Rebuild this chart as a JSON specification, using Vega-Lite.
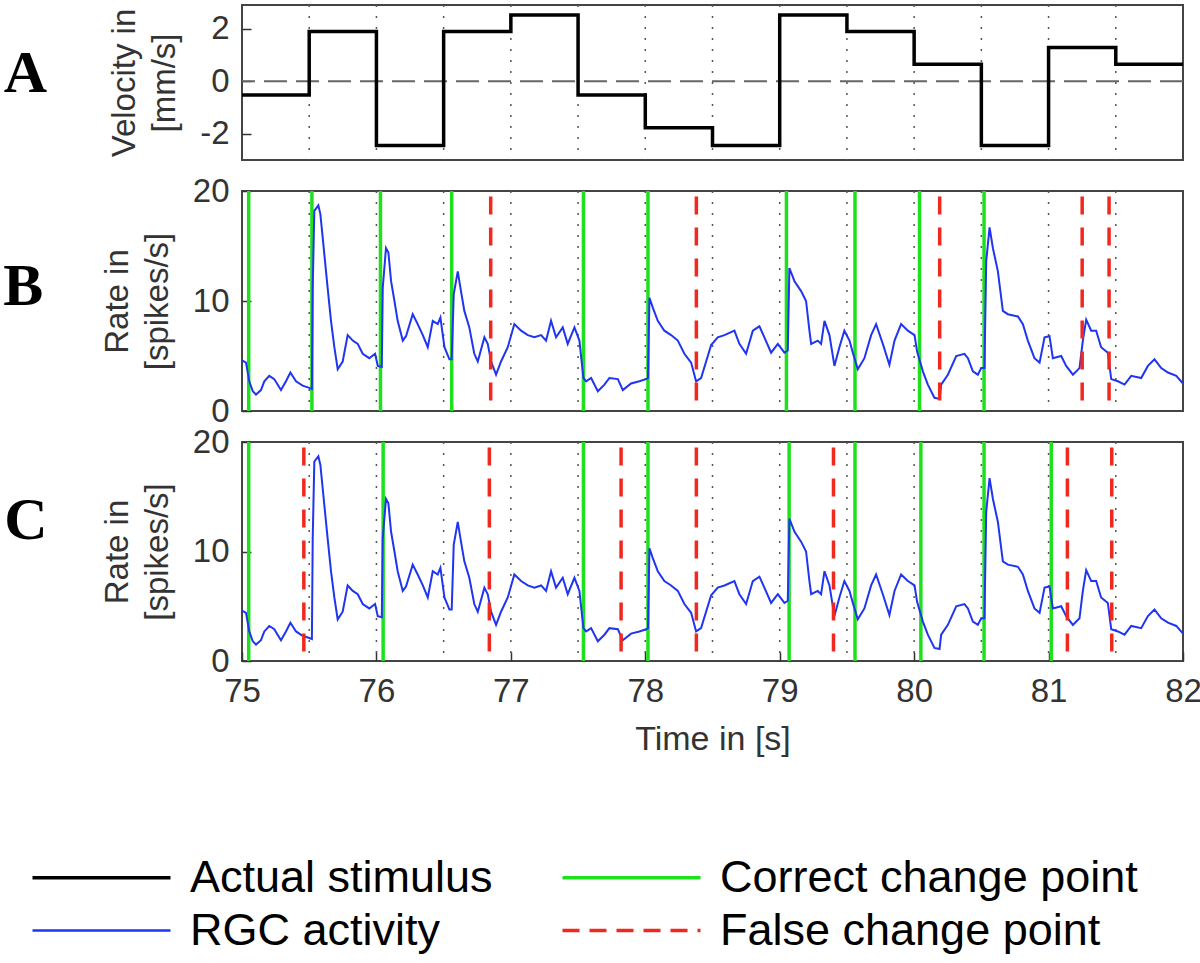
{
  "$schema": "https://vega.github.io/schema/vega-lite/v6.json",
  "padding": {"left": 2, "top": 3, "right": 0, "bottom": 0},
  "bounds": "flush",
  "config": {
    "font": "Liberation Sans",
    "view": {"stroke": "#444", "strokeWidth": 2},
    "axis": {
      "grid": false, "domain": false, "labelFlush": false,
      "labelFont": "Liberation Sans", "labelFontSize": 33, "labelColor": "#333",
      "titleFont": "Liberation Sans", "titleFontSize": 33, "titleFontWeight": "normal", "titleColor": "#333",
      "tickColor": "#333", "tickWidth": 1.5, "tickSize": -9, "labelPadding": 22,
      "titleLineHeight": 40, "titlePadding": 18
    },
    "axisY": {"labelExpr": "'' + datum.value"},
    "title": {"font": "Liberation Serif", "fontSize": 60, "fontWeight": "bold", "color": "#000"}
  },
  "datasets": {
    "stim": [
      {"t": 75.0, "v": -0.53}, {"t": 75.5, "v": 1.89}, {"t": 76.0, "v": -2.45}, {"t": 76.5, "v": 1.89},
      {"t": 77.0, "v": 2.52}, {"t": 77.5, "v": -0.53}, {"t": 78.0, "v": -1.77}, {"t": 78.5, "v": -2.45},
      {"t": 79.0, "v": 2.52}, {"t": 79.5, "v": 1.89}, {"t": 80.0, "v": 0.64}, {"t": 80.5, "v": -2.45},
      {"t": 81.0, "v": 1.28}, {"t": 81.5, "v": 0.64}, {"t": 82.0, "v": 0.64}
    ],
    "changes": [
      {"t": 75.5}, {"t": 76.0}, {"t": 76.5}, {"t": 77.0}, {"t": 77.5}, {"t": 78.0}, {"t": 78.5},
      {"t": 79.0}, {"t": 79.5}, {"t": 80.0}, {"t": 80.5}, {"t": 81.0}, {"t": 81.5}
    ],
    "cp": [
      {"panel": "B", "kind": "Correct change point", "t": 75.05},
      {"panel": "B", "kind": "Correct change point", "t": 75.52},
      {"panel": "B", "kind": "Correct change point", "t": 76.03},
      {"panel": "B", "kind": "Correct change point", "t": 76.56},
      {"panel": "B", "kind": "Correct change point", "t": 77.54},
      {"panel": "B", "kind": "Correct change point", "t": 78.02},
      {"panel": "B", "kind": "Correct change point", "t": 79.05},
      {"panel": "B", "kind": "Correct change point", "t": 79.56},
      {"panel": "B", "kind": "Correct change point", "t": 80.04},
      {"panel": "B", "kind": "Correct change point", "t": 80.52},
      {"panel": "B", "kind": "False change point", "t": 76.85},
      {"panel": "B", "kind": "False change point", "t": 78.38},
      {"panel": "B", "kind": "False change point", "t": 80.19},
      {"panel": "B", "kind": "False change point", "t": 81.25},
      {"panel": "B", "kind": "False change point", "t": 81.45},
      {"panel": "C", "kind": "Correct change point", "t": 75.05},
      {"panel": "C", "kind": "Correct change point", "t": 76.05},
      {"panel": "C", "kind": "Correct change point", "t": 77.54},
      {"panel": "C", "kind": "Correct change point", "t": 78.02},
      {"panel": "C", "kind": "Correct change point", "t": 79.07},
      {"panel": "C", "kind": "Correct change point", "t": 79.56},
      {"panel": "C", "kind": "Correct change point", "t": 80.05},
      {"panel": "C", "kind": "Correct change point", "t": 80.52},
      {"panel": "C", "kind": "Correct change point", "t": 81.02},
      {"panel": "C", "kind": "False change point", "t": 75.46},
      {"panel": "C", "kind": "False change point", "t": 76.84},
      {"panel": "C", "kind": "False change point", "t": 77.82},
      {"panel": "C", "kind": "False change point", "t": 78.38},
      {"panel": "C", "kind": "False change point", "t": 79.40},
      {"panel": "C", "kind": "False change point", "t": 81.14},
      {"panel": "C", "kind": "False change point", "t": 81.47}
    ],
    "rate": [
      {"t": 75.0, "r": 4.6}, {"t": 75.03, "r": 4.4}, {"t": 75.054, "r": 2.7}, {"t": 75.08, "r": 1.8},
      {"t": 75.104, "r": 1.5}, {"t": 75.141, "r": 1.9}, {"t": 75.166, "r": 2.7}, {"t": 75.203, "r": 3.2},
      {"t": 75.24, "r": 2.9}, {"t": 75.29, "r": 1.9}, {"t": 75.327, "r": 2.7}, {"t": 75.36, "r": 3.5},
      {"t": 75.402, "r": 2.7}, {"t": 75.451, "r": 2.3}, {"t": 75.501, "r": 2.1}, {"t": 75.52, "r": 2.0},
      {"t": 75.526, "r": 11.2}, {"t": 75.538, "r": 18.2}, {"t": 75.568, "r": 18.7}, {"t": 75.583, "r": 17.9},
      {"t": 75.6, "r": 15.8}, {"t": 75.637, "r": 11.2}, {"t": 75.662, "r": 8.2}, {"t": 75.687, "r": 5.8},
      {"t": 75.712, "r": 3.8}, {"t": 75.749, "r": 4.5}, {"t": 75.786, "r": 6.9}, {"t": 75.824, "r": 6.4},
      {"t": 75.861, "r": 6.1}, {"t": 75.898, "r": 5.2}, {"t": 75.947, "r": 4.8}, {"t": 75.99, "r": 5.2},
      {"t": 76.01, "r": 4.1}, {"t": 76.04, "r": 4.0}, {"t": 76.047, "r": 11.2}, {"t": 76.071, "r": 14.8},
      {"t": 76.089, "r": 14.4}, {"t": 76.109, "r": 11.8}, {"t": 76.134, "r": 10.0}, {"t": 76.158, "r": 8.2},
      {"t": 76.196, "r": 6.4}, {"t": 76.22, "r": 6.8}, {"t": 76.27, "r": 8.8}, {"t": 76.307, "r": 7.9},
      {"t": 76.345, "r": 6.9}, {"t": 76.382, "r": 5.8}, {"t": 76.419, "r": 8.2}, {"t": 76.456, "r": 7.9},
      {"t": 76.476, "r": 8.5}, {"t": 76.506, "r": 5.8}, {"t": 76.543, "r": 4.7}, {"t": 76.56, "r": 4.7},
      {"t": 76.575, "r": 10.6}, {"t": 76.605, "r": 12.7}, {"t": 76.629, "r": 10.9}, {"t": 76.654, "r": 9.1},
      {"t": 76.691, "r": 7.6}, {"t": 76.728, "r": 5.2}, {"t": 76.754, "r": 4.5}, {"t": 76.803, "r": 6.7},
      {"t": 76.828, "r": 6.1}, {"t": 76.853, "r": 4.5}, {"t": 76.89, "r": 3.3}, {"t": 76.927, "r": 4.5},
      {"t": 76.977, "r": 5.8}, {"t": 77.026, "r": 7.9}, {"t": 77.076, "r": 7.3}, {"t": 77.126, "r": 6.9},
      {"t": 77.175, "r": 6.7}, {"t": 77.225, "r": 6.9}, {"t": 77.262, "r": 6.4}, {"t": 77.299, "r": 8.2},
      {"t": 77.336, "r": 6.7}, {"t": 77.386, "r": 7.6}, {"t": 77.423, "r": 6.1}, {"t": 77.473, "r": 7.6},
      {"t": 77.51, "r": 6.4}, {"t": 77.522, "r": 5.0}, {"t": 77.54, "r": 3.0}, {"t": 77.56, "r": 2.7},
      {"t": 77.597, "r": 3.0}, {"t": 77.647, "r": 1.8}, {"t": 77.696, "r": 2.4}, {"t": 77.733, "r": 3.0},
      {"t": 77.796, "r": 2.9}, {"t": 77.833, "r": 1.9}, {"t": 77.894, "r": 2.5}, {"t": 77.956, "r": 2.7},
      {"t": 78.006, "r": 2.9}, {"t": 78.02, "r": 3.0}, {"t": 78.031, "r": 10.3}, {"t": 78.056, "r": 9.4},
      {"t": 78.093, "r": 8.2}, {"t": 78.142, "r": 7.3}, {"t": 78.192, "r": 6.9}, {"t": 78.242, "r": 6.4},
      {"t": 78.291, "r": 5.2}, {"t": 78.341, "r": 4.4}, {"t": 78.378, "r": 2.7}, {"t": 78.415, "r": 3.0},
      {"t": 78.49, "r": 6.0}, {"t": 78.539, "r": 6.7}, {"t": 78.589, "r": 6.9}, {"t": 78.663, "r": 7.3},
      {"t": 78.7, "r": 6.1}, {"t": 78.75, "r": 5.2}, {"t": 78.8, "r": 7.3}, {"t": 78.849, "r": 7.7},
      {"t": 78.886, "r": 6.7}, {"t": 78.936, "r": 5.3}, {"t": 78.986, "r": 6.1}, {"t": 79.035, "r": 5.3},
      {"t": 79.06, "r": 5.5}, {"t": 79.072, "r": 13.0}, {"t": 79.11, "r": 11.8}, {"t": 79.159, "r": 10.9},
      {"t": 79.196, "r": 10.0}, {"t": 79.221, "r": 7.3}, {"t": 79.234, "r": 6.1}, {"t": 79.283, "r": 6.4},
      {"t": 79.308, "r": 6.1}, {"t": 79.333, "r": 8.2}, {"t": 79.37, "r": 6.9}, {"t": 79.407, "r": 4.1},
      {"t": 79.444, "r": 5.8}, {"t": 79.481, "r": 7.3}, {"t": 79.519, "r": 6.4}, {"t": 79.544, "r": 5.3},
      {"t": 79.581, "r": 3.8}, {"t": 79.63, "r": 4.8}, {"t": 79.68, "r": 6.9}, {"t": 79.717, "r": 7.9},
      {"t": 79.767, "r": 6.1}, {"t": 79.816, "r": 4.2}, {"t": 79.854, "r": 6.4}, {"t": 79.903, "r": 7.9},
      {"t": 79.953, "r": 7.3}, {"t": 80.003, "r": 6.9}, {"t": 80.022, "r": 5.4}, {"t": 80.065, "r": 3.6},
      {"t": 80.102, "r": 2.4}, {"t": 80.151, "r": 1.2}, {"t": 80.189, "r": 1.1}, {"t": 80.201, "r": 2.4},
      {"t": 80.251, "r": 3.3}, {"t": 80.313, "r": 5.0}, {"t": 80.374, "r": 5.2}, {"t": 80.4, "r": 4.8},
      {"t": 80.437, "r": 3.6}, {"t": 80.474, "r": 3.3}, {"t": 80.499, "r": 3.9}, {"t": 80.523, "r": 3.9},
      {"t": 80.536, "r": 13.6}, {"t": 80.561, "r": 16.7}, {"t": 80.586, "r": 14.8}, {"t": 80.623, "r": 12.7},
      {"t": 80.66, "r": 9.1}, {"t": 80.697, "r": 8.8}, {"t": 80.772, "r": 8.6}, {"t": 80.809, "r": 7.9},
      {"t": 80.846, "r": 6.4}, {"t": 80.895, "r": 4.8}, {"t": 80.933, "r": 4.4}, {"t": 80.97, "r": 6.7},
      {"t": 81.007, "r": 6.8}, {"t": 81.032, "r": 4.8}, {"t": 81.094, "r": 5.0}, {"t": 81.131, "r": 4.1},
      {"t": 81.181, "r": 3.3}, {"t": 81.23, "r": 3.9}, {"t": 81.255, "r": 6.4}, {"t": 81.28, "r": 8.3},
      {"t": 81.317, "r": 7.3}, {"t": 81.354, "r": 7.3}, {"t": 81.391, "r": 5.8}, {"t": 81.441, "r": 5.3},
      {"t": 81.466, "r": 2.9}, {"t": 81.516, "r": 2.7}, {"t": 81.565, "r": 2.4}, {"t": 81.615, "r": 3.2},
      {"t": 81.689, "r": 3.0}, {"t": 81.739, "r": 4.1}, {"t": 81.788, "r": 4.7}, {"t": 81.838, "r": 3.9},
      {"t": 81.888, "r": 3.5}, {"t": 81.95, "r": 3.2}, {"t": 82.0, "r": 2.5}
    ]
  },
  "spacing": 31,
  "vconcat": [
    {
      "width": 941, "height": 155,
      "title": {"text": "A", "orient": "left", "angle": 0, "anchor": "middle", "align": "center", "baseline": "middle", "offset": 40, "dy": -9},
      "layer": [
        {
          "data": {"name": "changes"},
          "mark": {"type": "rule", "color": "#555", "strokeWidth": 1.5, "strokeDash": [2, 9]},
          "encoding": {"x": {"field": "t", "type": "quantitative", "scale": {"domain": [75, 82], "nice": false}, "axis": null}}
        },
        {
          "data": {"values": [{}]},
          "mark": {"type": "rule", "color": "#666", "strokeWidth": 2, "strokeDash": [23, 9]},
          "encoding": {"y": {"datum": 0, "type": "quantitative"}}
        },
        {
          "data": {"name": "stim"},
          "mark": {"type": "line", "interpolate": "step-after", "color": "#000", "strokeWidth": 3.5},
          "encoding": {
            "x": {"field": "t", "type": "quantitative", "scale": {"domain": [75, 82], "nice": false}, "axis": null},
            "y": {"field": "v", "type": "quantitative", "scale": {"domain": [-3, 2.9], "nice": false, "zero": false}, "axis": {"orient": "left", "values": [-2, 0, 2], "title": ["Velocity in", "[mm/s]"]}}
          }
        }
      ]
    },
    {
      "width": 941, "height": 220,
      "title": {"text": "B", "orient": "left", "angle": 0, "anchor": "middle", "align": "center", "baseline": "middle", "offset": 38, "dy": -14},
      "layer": [
        {
          "data": {"name": "changes"},
          "mark": {"type": "rule", "color": "#555", "strokeWidth": 1.5, "strokeDash": [2, 9]},
          "encoding": {"x": {"field": "t", "type": "quantitative", "scale": {"domain": [75, 82], "nice": false}, "axis": null}}
        },
        {
          "data": {"name": "cp"},
          "transform": [{"filter": "datum.panel === 'B' && datum.kind === 'Correct change point'"}],
          "mark": {"type": "rule", "color": "#1fe01f", "strokeWidth": 3.5},
          "encoding": {"x": {"field": "t", "type": "quantitative", "scale": {"domain": [75, 82], "nice": false}, "axis": null}}
        },
        {
          "data": {"name": "rate"},
          "mark": {"type": "line", "color": "#2035f0", "strokeWidth": 2},
          "encoding": {
            "x": {"field": "t", "type": "quantitative", "scale": {"domain": [75, 82], "nice": false}, "axis": null},
            "y": {"field": "r", "type": "quantitative", "scale": {"domain": [0, 20], "nice": false}, "axis": {"orient": "left", "values": [0, 10, 20], "title": ["Rate in", "[spikes/s]"]}}
          }
        },
        {
          "data": {"name": "cp"},
          "transform": [{"filter": "datum.panel === 'B' && datum.kind === 'False change point'"}],
          "mark": {"type": "rule", "color": "#f0281e", "strokeWidth": 3.5, "strokeDash": [18, 13]},
          "encoding": {
            "x": {"field": "t", "type": "quantitative", "scale": {"domain": [75, 82], "nice": false}, "axis": null},
            "y": {"datum": 19.5, "type": "quantitative"},
            "y2": {"datum": 0.5}
          }
        }
      ]
    },
    {
      "width": 941, "height": 219,
      "title": {"text": "C", "orient": "left", "angle": 0, "anchor": "middle", "align": "center", "baseline": "middle", "offset": 32, "dy": -31},
      "layer": [
        {
          "data": {"name": "changes"},
          "mark": {"type": "rule", "color": "#555", "strokeWidth": 1.5, "strokeDash": [2, 9]},
          "encoding": {"x": {"field": "t", "type": "quantitative", "scale": {"domain": [75, 82], "nice": false}, "axis": {"orient": "bottom", "values": [75, 76, 77, 78, 79, 80, 81, 82], "format": "d", "title": "Time in [s]", "labelPadding": 23, "titleFontSize": 34, "titlePadding": 14}}}
        },
        {
          "data": {"name": "cp"},
          "transform": [{"filter": "datum.panel === 'C' && datum.kind === 'Correct change point'"}],
          "mark": {"type": "rule", "strokeWidth": 3.5},
          "encoding": {
            "x": {"field": "t", "type": "quantitative", "scale": {"domain": [75, 82], "nice": false}},
            "color": {
              "field": "kind", "type": "nominal",
              "scale": {"domain": ["Actual stimulus", "RGC activity", "Correct change point", "False change point"], "range": ["#000000", "#2035f0", "#1fe01f", "#f0281e"]},
              "legend": {
                "orient": "none", "legendX": -163, "legendY": 850, "columns": 2, "title": null,
                "symbolType": "stroke", "symbolSize": 19044, "symbolStrokeWidth": 3.5,
                "labelFont": "Liberation Sans", "labelFontSize": 45, "labelColor": "#000", "labelOffset": 66, "labelLimit": 800,
                "columnPadding": 62, "rowPadding": 7,
                "encode": {"symbols": {"update": {
                  "strokeDash": {"signal": "datum.value === 'False change point' ? [17, 10] : []"},
                  "strokeWidth": {"signal": "datum.value === 'RGC activity' ? 2.5 : 3.5"}
                }}}
              }
            }
          }
        },
        {
          "data": {"name": "rate"},
          "mark": {"type": "line", "color": "#2035f0", "strokeWidth": 2},
          "encoding": {
            "x": {"field": "t", "type": "quantitative", "scale": {"domain": [75, 82], "nice": false}},
            "y": {"field": "r", "type": "quantitative", "scale": {"domain": [0, 20], "nice": false}, "axis": {"orient": "left", "values": [0, 10, 20], "title": ["Rate in", "[spikes/s]"]}}
          }
        },
        {
          "data": {"name": "cp"},
          "transform": [{"filter": "datum.panel === 'C' && datum.kind === 'False change point'"}],
          "mark": {"type": "rule", "color": "#f0281e", "strokeWidth": 3.5, "strokeDash": [18, 13]},
          "encoding": {
            "x": {"field": "t", "type": "quantitative", "scale": {"domain": [75, 82], "nice": false}},
            "y": {"datum": 19.5, "type": "quantitative"},
            "y2": {"datum": 0.5}
          }
        }
      ]
    }
  ]
}
